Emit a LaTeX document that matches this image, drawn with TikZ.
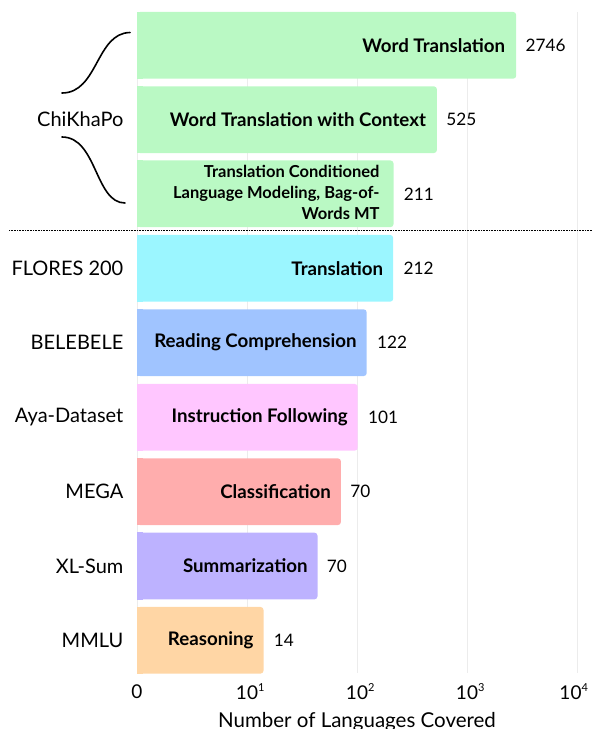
\documentclass[tikz,border=0pt]{standalone}
\usepackage{fontspec}
\setmainfont{Lato}
\usetikzlibrary{positioning,calc}
\definecolor{BarMint}{HTML}{BAF9C4}
\definecolor{BarCyan}{HTML}{9BF6FF}
\definecolor{BarBlue}{HTML}{A0C4FF}
\definecolor{BarPink}{HTML}{FFC6FF}
\definecolor{BarRed}{HTML}{FFADAD}
\definecolor{BarLilac}{HTML}{BDB2FF}
\definecolor{BarPeach}{HTML}{FFD6A5}
\definecolor{GridGray}{HTML}{ECECEC}
\newcommand{\tenpow}[1]{10\rlap{\raisebox{0.85ex}{\fontsize{11}{11}\selectfont #1}}}
\tikzset{
 bar/.style={rounded corners=3pt,minimum height=66.7pt,inner sep=0pt,anchor=west},
 tasklabel/.style={font=\bfseries\fontsize{18.7}{21}\selectfont,anchor=east,align=right,inner sep=0pt},
 smalltask/.style={font=\bfseries\fontsize{16.5}{21}\selectfont,anchor=east,align=right,inner sep=0pt},
 countlabel/.style={font=\fontsize{17.2}{21}\selectfont,anchor=west,inner sep=0pt},
 setlabel/.style={font=\fontsize{20}{22}\selectfont,inner sep=0pt},
 ticklabel/.style={font=\fontsize{19}{22}\selectfont,inner sep=0pt},
 brace/.style={line width=1.6pt,line cap=round},
}

\begin{document}
\begin{tikzpicture}[x=1pt,y=-1pt]
\useasboundingbox (0,0) rectangle (592,729);
% grid
\foreach \gx in {137,247,357,467,577}
  \draw[GridGray,line width=0.8pt] (\gx,12) -- (\gx,673.3);
% bars
\node[bar,fill=BarMint,minimum width=379pt] (wt) at (137,45.3) {};
\node[bar,fill=BarMint,minimum width=299.7pt] (wtc) at (137,119.7) {};
\node[bar,fill=BarMint,minimum width=256.3pt] (tcl) at (137,193.8) {};
\node[bar,fill=BarCyan,minimum width=256pt] (flo) at (137,268.3) {};
\node[bar,fill=BarBlue,minimum width=229.5pt] (bel) at (137,342.7) {};
\node[bar,fill=BarPink,minimum width=220.5pt] (aya) at (137,417.3) {};
\node[bar,fill=BarRed,minimum width=203.7pt] (mega) at (137,491.7) {};
\node[bar,fill=BarLilac,minimum width=180.3pt] (xls) at (137,566) {};
\node[bar,fill=BarPeach,minimum width=126.3pt] (mmlu) at (137,640.3) {};
\foreach \b/\c in {wt/BarMint,wtc/BarMint,tcl/BarMint,flo/BarCyan,bel/BarBlue,aya/BarPink,mega/BarRed,xls/BarLilac,mmlu/BarPeach}
  \fill[\c] (\b.north west) rectangle ([xshift=6pt]\b.south west);
% task names
\node[tasklabel] (wtt) at ([xshift=-11pt]wt.east) {Word Translation};
\node[tasklabel] (wtct) at ([xshift=-11pt]wtc.east) {Word Translation with Context};
\node[smalltask] (tclt) at ([xshift=-14pt,yshift=1pt]tcl.east) {Translation Conditioned\\Language Modeling, Bag-of-\\Words MT};
\node[tasklabel] (flot) at ([xshift=-10pt]flo.east) {Translation};
\node[tasklabel] (belt) at ([xshift=-10pt]bel.east) {Reading Comprehension};
\node[tasklabel] (ayat) at ([xshift=-10pt]aya.east) {Instruction Following};
\node[tasklabel] (megat) at ([xshift=-10pt]mega.east) {Classification};
\node[tasklabel] (xlst) at ([xshift=-10pt]xls.east) {Summarization};
\node[tasklabel] (mmlut) at ([xshift=-10pt]mmlu.east) {Reasoning};
% counts
\node[countlabel] (wtn) at ([xshift=9pt]wt.east) {2746};
\node[countlabel] (wtcn) at ([xshift=9pt]wtc.east) {525};
\node[countlabel] (tcln) at ([xshift=10pt]tcl.east) {211};
\node[countlabel] (flon) at ([xshift=10pt]flo.east) {212};
\node[countlabel] (beln) at ([xshift=10pt]bel.east) {122};
\node[countlabel] (ayan) at ([xshift=10pt]aya.east) {101};
\node[countlabel] (megan) at ([xshift=9pt]mega.east) {70};
\node[countlabel] (xlsn) at ([xshift=9pt]xls.east) {70};
\node[countlabel] (mmlun) at ([xshift=10pt]mmlu.east) {14};
% benchmark names
\node[setlabel,left=13.5pt of wtc.west] (chi) {ChiKhaPo};
\node[setlabel,left=13.5pt of flo.west] (flores) {FLORES 200};
\node[setlabel,left=13.5pt of bel.west] (belebele) {BELEBELE};
\node[setlabel,left=13.5pt of aya.west] (ayads) {Aya-Dataset};
\node[setlabel,left=13.5pt of mega.west] (megads) {MEGA};
\node[setlabel,left=13.5pt of xls.west] (xlsum) {XL-Sum};
\node[setlabel,left=13.5pt of mmlu.west] (mmluds) {MMLU};
% brace round ChiKhaPo
\draw[brace] (130,32.5) .. controls (96,33) and (98,93) .. (62,93);
\draw[brace] (62,137) .. controls (97,137) and (95,203) .. (125,203);
% separator
\draw[dash pattern=on 0.8pt off 0.8pt,line width=0.9pt] (9,230.6) -- (592,230.6);
% axis
\node[ticklabel] (t0) at (137,691.7) {0};
\node[ticklabel] (t1) at (247,691.7) {\tenpow{1}};
\node[ticklabel] (t2) at (357,691.7) {\tenpow{2}};
\node[ticklabel] (t3) at (467,691.7) {\tenpow{3}};
\node[ticklabel] (t4) at (570.5,691.7) {\tenpow{4}};
\node[ticklabel,font=\fontsize{20.5}{22}\selectfont] (xtitle) at (357,722) {Number of Languages Covered};
\end{tikzpicture}
\end{document}
